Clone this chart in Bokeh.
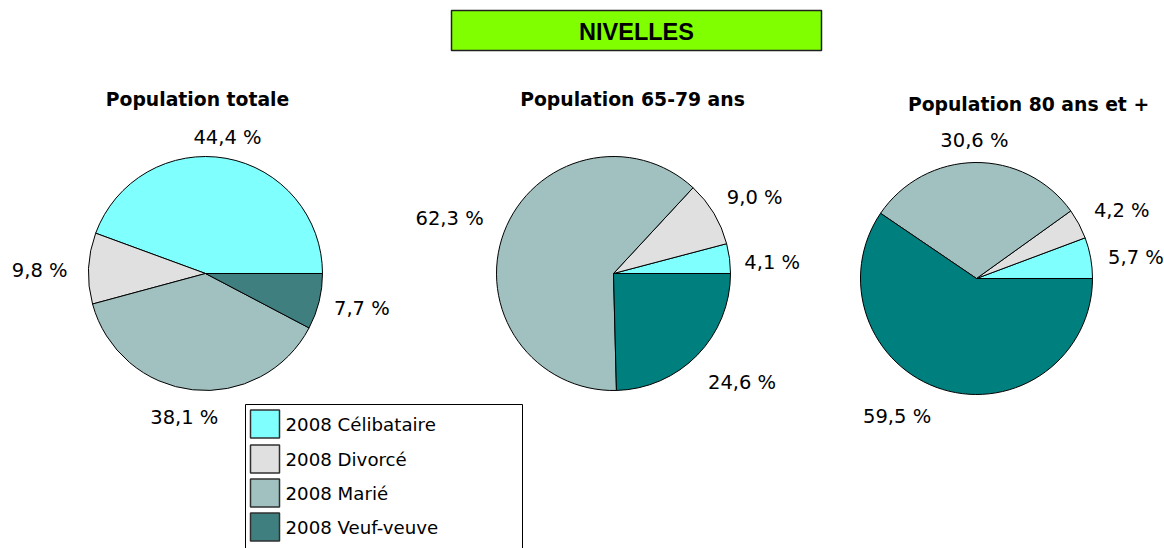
import math
from bokeh.plotting import figure
from bokeh.models import Range1d
from bokeh.core.properties import value
from bokeh.embed import file_html
from bokeh.resources import INLINE

# ---------------- data ----------------
categories = ["2008 Célibataire", "2008 Divorcé", "2008 Marié", "2008 Veuf-veuve"]
pie_titles = ["Population totale", "Population 65-79 ans", "Population 80 ans et +"]
pop_totale = [44.4, 9.8, 38.1, 7.7]
pop_65_79 = [4.1, 9.0, 62.3, 24.6]
pop_80_plus = [5.7, 4.2, 30.6, 59.5]
main_title = "NIVELLES"

# ---------------- styles / layout ----------------
W, H = 1164, 548
colors_total = ["#80FFFF", "#E0E0E0", "#A1C1C0", "#407F7F"]
colors_old = ["#80FFFF", "#E0E0E0", "#A1C1C0", "#007F7F"]
legend_colors = colors_total

def X(px):
    return px

def Y(py):
    return H - py

pies = [
    dict(vals=pop_totale, colors=colors_total, cx=205, cy=273, r=117, title_xy=(197, 99),
         nudges=[(-7, 4), (-6, 3), (-3, 3), (1, 1)]),
    dict(vals=pop_65_79, colors=colors_old, cx=613, cy=273, r=117, title_xy=(632, 99),
         nudges=[(0, 7), (4, -3), (-9, -5), (10, 10)]),
    dict(vals=pop_80_plus, colors=colors_old, cx=976, cy=278, r=116, title_xy=(1028, 104),
         nudges=[(3, 4), (5, -2), (0, 3), (-31, 3)]),
]

p = figure(width=W, height=H, output_backend="svg", toolbar_location=None,
           x_range=Range1d(0, W), y_range=Range1d(0, H), min_border=0)
p.axis.visible = False
p.grid.visible = False
p.outline_line_color = None
p.background_fill_color = "white"

LABEL_FONT = value("DejaVu Sans")

def fmt(v):
    return f"{v:.1f}".replace(".", ",") + " %"

for i, pie in enumerate(pies):
    vals = pie["vals"]
    total = sum(vals)
    starts, ends = [], []
    acc = 0.0
    for v in vals:
        starts.append(2 * math.pi * acc / total)
        acc += v
        ends.append(2 * math.pi * acc / total)
    cx, cy, r = X(pie["cx"]), Y(pie["cy"]), pie["r"]
    p.wedge(x=[cx] * 4, y=[cy] * 4, radius=r, start_angle=starts, end_angle=ends,
            direction="anticlock", fill_color=pie["colors"], line_color="black",
            line_width=1)
    # labels
    lx, ly, lt = [], [], []
    for k, v in enumerate(vals):
        mid = (starts[k] + ends[k]) / 2
        ux, uy = math.cos(mid), math.sin(mid)
        txt = fmt(v)
        hw = 5.6 * len(txt)
        hh = 10
        R = r + 15
        tx = cx + R * ux + ux * hw + pie["nudges"][k][0]
        ty = cy + R * uy + uy * hh - pie["nudges"][k][1]
        lx.append(tx)
        ly.append(ty)
        lt.append(txt)
    p.text(x=lx, y=ly, text=lt, text_align="center", text_baseline="middle",
           text_font=LABEL_FONT, text_font_size="19.5px", text_color="black")
    tx, ty = pie["title_xy"]
    p.text(x=[X(tx)], y=[Y(ty)], text=[pie_titles[i]], text_align="center",
           text_baseline="middle", text_font=LABEL_FONT, text_font_size="18.8px",
           text_font_style="bold", text_color="black")

# main title box
p.quad(left=[X(451)], right=[X(821)], top=[Y(10)], bottom=[Y(50)],
       fill_color="#80FF00", line_color="#202020", line_width=1.5)
p.text(x=[X(636)], y=[Y(31)], text=[main_title], text_align="center",
       text_baseline="middle", text_font=value("Liberation Sans"),
       text_font_size="23.5px", text_font_style="bold", text_color="black")

# legend box
p.quad(left=[X(245)], right=[X(522)], top=[Y(404)], bottom=[Y(600)],
       fill_color="white", line_color="black", line_width=1)
row_y = [423.5, 458.5, 492.5, 526.5]
p.quad(left=[X(250)] * 4, right=[X(279)] * 4,
       top=[Y(y - 14) for y in row_y], bottom=[Y(y + 14) for y in row_y],
       fill_color=legend_colors, line_color="#303030", line_width=1.5)
p.text(x=[X(285)] * 4, y=[Y(y) for y in row_y], text=categories,
       text_align="left", text_baseline="middle", text_font=LABEL_FONT,
       text_font_size="18.2px", text_color="black")

open("out.html", "w").write(file_html(p, INLINE))
